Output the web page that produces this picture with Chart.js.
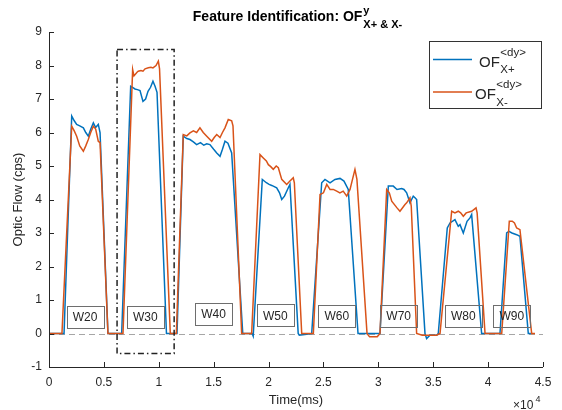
<!DOCTYPE html>
<html>
<head>
<meta charset="utf-8">
<script src="https://cdn.jsdelivr.net/npm/chart.js@4"></script>
<style>
  html, body { margin: 0; padding: 0; background: #fff; }
  #wrap { width: 562px; height: 410px; }
</style>
</head>
<body>
<div id="wrap"><canvas id="chart" width="562" height="410"></canvas></div>
<script>
// time in ms, optic flow in cps
const plusTime = [0, 1370, 2070, 2300, 2520, 2800, 3130, 3350, 3580, 3800, 4040, 4250, 4490, 4650, 5370,
  6620, 7440, 7650, 7830, 8050, 8290, 8560, 8800, 9020, 9250, 9470, 9660, 9840, 10700,
  11660, 12230, 12550, 12840, 13150, 13450, 13800, 14100, 14370, 14660, 15000, 15280, 15580, 15800, 16030, 16300, 16640, 17650,
  18500, 18600, 19430, 19800, 20050, 20290, 20740, 21000, 21200, 21450, 21800, 21950, 22700, 22800, 23300,
  23930, 24840, 25140, 25600, 26050, 26510, 26870, 27260, 28150,
  30150, 30910, 31360, 31700, 32130, 32340, 32580, 32880, 33180, 33340, 33490, 34250, 34400, 34700, 35320,
  35460, 36280, 36530, 36980, 37280, 37440, 37740, 38080, 38350, 38500, 39410,
  41080, 41690, 41900, 42170, 42600, 42900, 43660, 43900];
const plusFlow = [0, 0, 6.49, 6.35, 6.24, 6.2, 6.14, 6.0, 5.89, 6.1, 6.29, 6.15, 6.24, 6.0, 0,
  0, 7.38, 7.34, 7.30, 7.28, 7.25, 6.93, 7.0, 7.23, 7.35, 7.53, 7.38, 7.2, 0,
  0, 5.89, 5.82, 5.79, 5.72, 5.64, 5.7, 5.62, 5.66, 5.64, 5.5, 5.39, 5.29, 5.5, 5.74, 5.68, 5.39, 0,
  0, -0.08, 4.6, 4.5, 4.45, 4.42, 4.35, 4.2, 4.0, 4.1, 4.35, 4.45, 0, -0.05, -0.03,
  0, 4.5, 4.6, 4.5, 4.6, 4.63, 4.55, 4.3, 0,
  0, 4.4, 4.4, 4.3, 4.33, 4.3, 4.2, 3.9, 4.1, 4.05, 4.0, 0, -0.15, -0.05, -0.05,
  0, 3.15, 3.3, 3.4, 3.2, 3.25, 3.0, 3.35, 3.45, 3.55, 0,
  0, 3.0, 3.05, 3.0, 2.95, 2.9, 0, 0];

const minusTime = [0, 1180, 2070, 2300, 2520, 2800, 3130, 3350, 3580, 3800, 4040, 4250, 4490, 4650, 5370,
  6740, 7620, 7740, 8020, 8130, 8380, 8560, 8750, 9050, 9290, 9470, 9750, 9960, 10070, 11050,
  11600, 12230, 12550, 12840, 13150, 13450, 13750, 14050, 14370, 14820, 15050, 15280, 15580, 15800, 16030, 16330, 16640, 16760, 17550,
  18460, 19220, 19520, 19800, 19980, 20200, 20430, 20700, 20890, 21200, 21650, 21950, 22250, 22350, 23020,
  24080, 24690, 25000, 25300, 25600, 25900, 26210, 26500, 26800, 27120, 27420, 27870, 28050, 28970, 29200, 29900,
  30150, 30760, 31000, 31220, 31700, 31970, 32430, 32580, 32880, 33000, 33490, 34000, 35300,
  35620, 36680, 36980, 37280, 37500, 37740, 38000, 38500, 38900, 39000, 39720,
  41240, 41930, 42200, 42400, 42600, 42900, 43970, 44270];
const minusFlow = [0, 0, 6.19, 6.05, 5.89, 5.6, 5.44, 5.6, 5.79, 6.0, 6.19, 6.1, 5.74, 5.7, 0,
  0, 7.88, 7.69, 7.8, 7.83, 7.85, 7.83, 7.9, 7.93, 7.95, 7.93, 8.0, 8.13, 7.9, 0,
  0, 5.94, 5.9, 5.99, 6.05, 6.0, 6.14, 6.0, 5.89, 5.74, 5.85, 5.94, 5.85, 6.0, 6.14, 6.39, 6.35, 6.2, 0,
  0, 5.34, 5.24, 5.15, 5.04, 4.98, 4.9, 5.0, 4.95, 4.6, 4.45, 4.55, 4.65, 4.5, 0,
  0, 4.15, 4.2, 4.45, 4.3, 4.3, 4.25, 4.2, 4.25, 4.1, 4.3, 4.9, 4.6, 0, -0.1, -0.1,
  0, 4.3, 4.2, 3.95, 3.75, 3.65, 3.85, 3.9, 4.05, 3.8, 0, -0.05, -0.05,
  0, 3.65, 3.6, 3.65, 3.6, 3.5, 3.6, 3.65, 3.75, 3.6, 0,
  0, 3.35, 3.35, 3.3, 3.15, 3.1, 0, 0];

const windowNames = ["W20", "W30", "W40", "W50", "W60", "W70", "W80", "W90"];
const windowTime = [3280, 8770, 14990, 20610, 26210, 31850, 37740, 42150];
const windowFlow = [0.49, 0.5, 0.58, 0.54, 0.52, 0.52, 0.53, 0.53];

const highlightTime = [6200, 11400];
const highlightFlow = [-0.6, 8.48];

const xTicks = [0, 5000, 10000, 15000, 20000, 25000, 30000, 35000, 40000, 45000];
const xTickLabels = ["0", "0.5", "1", "1.5", "2", "2.5", "3", "3.5", "4", "4.5"];
const yTicks = [-1, 0, 1, 2, 3, 4, 5, 6, 7, 8, 9];

const legendSubs = ["X+", "X-"];
const BLUE = "#0072BD", ORANGE = "#D95319", INK = "#262626";
const FONT = "'Liberation Sans', Arial, sans-serif";

const toPoints = (t, v) => t.map((x, i) => ({ x, y: v[i] }));

const overlay = {
  id: "overlay",
  beforeDatasetsDraw(chart) {
    const { ctx, scales: { x, y } } = chart;
    ctx.save();
    ctx.strokeStyle = "#a6a6a6";
    ctx.lineWidth = 1;
    ctx.setLineDash([6, 4]);
    const y0 = Math.round(y.getPixelForValue(0)) + 0.5;
    ctx.beginPath(); ctx.moveTo(x.left, y0); ctx.lineTo(x.right, y0); ctx.stroke();
    ctx.restore();
  },
  afterDatasetsDraw(chart) {
    const { ctx, scales: { x, y } } = chart;
    ctx.save();

    // window labels
    ctx.font = "12px " + FONT;
    ctx.textAlign = "center";
    ctx.textBaseline = "middle";
    windowNames.forEach((name, i) => {
      const cx = x.getPixelForValue(windowTime[i]);
      const cy = y.getPixelForValue(windowFlow[i]);
      ctx.strokeStyle = "#6e6e6e";
      ctx.lineWidth = 1;
      ctx.strokeRect(Math.round(cx - 18.5) + 0.5, Math.round(cy - 11) + 0.5, 37, 22);
      ctx.fillStyle = INK;
      ctx.fillText(name, cx, cy + 1);
    });

    // highlight box
    ctx.strokeStyle = "#222";
    ctx.lineWidth = 1.5;
    ctx.setLineDash([6, 3, 1.5, 3]);
    const hx0 = x.getPixelForValue(highlightTime[0]), hx1 = x.getPixelForValue(highlightTime[1]);
    const hy0 = y.getPixelForValue(highlightFlow[1]), hy1 = y.getPixelForValue(highlightFlow[0]);
    ctx.strokeRect(hx0, hy0, hx1 - hx0, hy1 - hy0);
    ctx.setLineDash([]);

    // axes with inward ticks
    ctx.strokeStyle = INK;
    ctx.lineWidth = 1;
    ctx.beginPath();
    ctx.moveTo(x.left + 0.5, y.top); ctx.lineTo(x.left + 0.5, y.bottom + 0.5); ctx.lineTo(x.right, y.bottom + 0.5);
    xTicks.forEach(t => { const px = Math.round(x.getPixelForValue(t)) + 0.5; ctx.moveTo(px, y.bottom); ctx.lineTo(px, y.bottom - 5); });
    yTicks.forEach(t => { const py = Math.round(y.getPixelForValue(t)) + 0.5; ctx.moveTo(x.left, py); ctx.lineTo(x.left + 5, py); });
    ctx.stroke();

    // legend
    ctx.fillStyle = "#fff";
    ctx.fillRect(429.5, 41.5, 112, 67);
    ctx.strokeStyle = "#333";
    ctx.strokeRect(429.5, 41.5, 112, 67);
    [BLUE, ORANGE].forEach((c, i) => {
      const ly = 59.5 + i * 32.5;
      const tx = i === 0 ? 479 : 475;
      ctx.strokeStyle = c; ctx.lineWidth = 1.5;
      ctx.beginPath(); ctx.moveTo(433, ly); ctx.lineTo(472, ly); ctx.stroke();
      ctx.fillStyle = INK;
      ctx.textAlign = "left"; ctx.textBaseline = "alphabetic";
      ctx.font = "15px " + FONT;
      ctx.fillText("OF", tx, ly + 7);
      const w = ctx.measureText("OF").width;
      ctx.font = "11.5px " + FONT;
      ctx.fillText("<dy>", tx + w + 0.5, ly - 4);
      ctx.font = "11.5px " + FONT;
      ctx.fillText(legendSubs[i], tx + w + 0.5, ly + 13.5);
    });

    // title
    ctx.fillStyle = "#000";
    ctx.textBaseline = "alphabetic";
    ctx.textAlign = "left";
    ctx.font = "bold 14px " + FONT;
    const main = "Feature Identification: OF";
    const mw = ctx.measureText(main).width;
    ctx.font = "bold 11px " + FONT;
    const sw = ctx.measureText("X+ & X-").width;
    const tx = 297.5 - (mw + sw + 1) / 2;
    ctx.font = "bold 14px " + FONT;
    ctx.fillText(main, tx, 21);
    ctx.font = "bold 11px " + FONT;
    ctx.fillText("y", tx + mw + 1, 14);
    ctx.fillText("X+ & X-", tx + mw + 1, 27.5);

    // axis titles
    ctx.fillStyle = INK;
    ctx.font = "13px " + FONT;
    ctx.textAlign = "center";
    ctx.fillText("Time(ms)", (x.left + x.right) / 2, 404);
    ctx.save();
    ctx.translate(22, (y.top + y.bottom) / 2);
    ctx.rotate(-Math.PI / 2);
    ctx.fillText("Optic Flow (cps)", 0, 0);
    ctx.restore();
    ctx.textAlign = "left";
    ctx.font = "12px " + FONT;
    ctx.fillText("\u00d710", 513, 409);
    ctx.font = "9px " + FONT;
    ctx.fillText("4", 535.5, 402);

    ctx.restore();
  }
};

new Chart(document.getElementById("chart"), {
  type: "line",
  data: {
    datasets: [
      { label: "OF<dy>X+", data: toPoints(plusTime, plusFlow), borderColor: BLUE, borderWidth: 1.5, pointRadius: 0, tension: 0, order: 1 },
      { label: "OF<dy>X-", data: toPoints(minusTime, minusFlow), borderColor: ORANGE, borderWidth: 1.5, pointRadius: 0, tension: 0, order: 0 }
    ]
  },
  options: {
    responsive: false,
    animation: false,
    devicePixelRatio: 1,
    layout: { padding: { top: 32, right: 19, left: 0, bottom: 0 } },
    plugins: { legend: { display: false }, title: { display: false }, tooltip: { enabled: false } },
    scales: {
      x: {
        type: "linear", min: 0, max: 45000,
        afterFit: s => { s.height = 43; },
        afterBuildTicks: s => { s.ticks = xTicks.map(v => ({ value: v })); },
        grid: { display: false, drawTicks: false }, border: { display: false },
        ticks: { padding: 8, color: INK, font: { family: FONT, size: 12 }, maxRotation: 0,
          callback: v => xTickLabels[xTicks.indexOf(v)] }
      },
      y: {
        type: "linear", min: -1, max: 9,
        afterFit: s => { s.width = 49; },
        afterBuildTicks: s => { s.ticks = yTicks.map(v => ({ value: v })); },
        grid: { display: false, drawTicks: false }, border: { display: false },
        ticks: { padding: 7, color: INK, font: { family: FONT, size: 12 } }
      }
    }
  },
  plugins: [overlay]
});
</script>
</body>
</html>
